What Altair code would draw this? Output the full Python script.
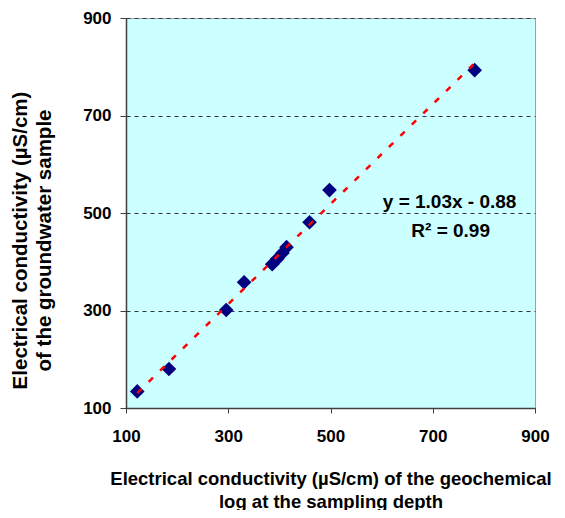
import altair as alt
import pandas as pd

log_ec = [122, 184, 296, 331, 386, 396, 406, 414, 459, 498, 782]
sample_ec = [134, 180, 301, 358, 395, 406, 418, 430, 481, 547, 793]

eq_text = ["y = 1.03x - 0.88", "R\u00b2 = 0.99"]
eq_x = [733, 735]
eq_y = [523, 464]

ticks = [100, 300, 500, 700, 900]

df = pd.DataFrame({"x": log_ec, "y": sample_ec})
df_txt = pd.DataFrame({"t": eq_text, "x": eq_x, "y": eq_y})

FONT = "Liberation Sans"

xenc = alt.X("x:Q", scale=alt.Scale(domain=[100, 900], nice=False),
             axis=alt.Axis(values=ticks, grid=False, labelFlush=False,
                           title=["Electrical conductivity (\u00b5S/cm) of the geochemical",
                                  "log at the sampling depth"],
                           titlePadding=25, labelPadding=15, tickSize=5,
                           titleFontSize=18.5, titleLineHeight=23))
yenc = alt.Y("y:Q", scale=alt.Scale(domain=[100, 900], nice=False),
             axis=alt.Axis(values=ticks, grid=True, labelFlush=False,
                           title=["Electrical conductivity (\u00b5S/cm)",
                                  "of the groundwater sample"],
                           titlePadding=28, labelPadding=9, tickSize=6,
                           titleFontSize=20.5, titleLineHeight=24, titleY=222))

points = alt.Chart(df).mark_point(shape="diamond", filled=True, size=215,
                                  color="#000080", opacity=1).encode(x=xenc, y=yenc)

trend = alt.Chart(df).transform_regression("x", "y").mark_line(
    color="#FF0000", strokeDash=[6, 10], strokeWidth=2.5
).encode(x="x:Q", y="y:Q")

txt = alt.Chart(df_txt).mark_text(font=FONT, fontSize=19, fontWeight="bold",
                                  color="black", align="center", baseline="middle").encode(
    x="x:Q", y="y:Q", text="t:N")

chart = alt.layer(points, trend, txt).properties(
    width=409, height=390,
    autosize=alt.AutoSizeParams(type="none"),
    padding={"left": 118, "top": 10, "right": 22, "bottom": 102},
    background="white",
).configure_view(
    fill="#CCFFFF", stroke="#A0A0A0", strokeWidth=1
).configure_axis(
    labelFont=FONT, labelFontSize=17, labelFontWeight="bold", labelColor="black",
    titleFont=FONT, titleFontWeight="bold", titleColor="black",
    domainColor="#404040", domainWidth=1.5, tickColor="#404040", tickWidth=1,
    gridColor="#333333", gridDash=[4, 4], gridWidth=1,
)

chart.save("out.html", embed_options={"renderer": "svg", "actions": False})
